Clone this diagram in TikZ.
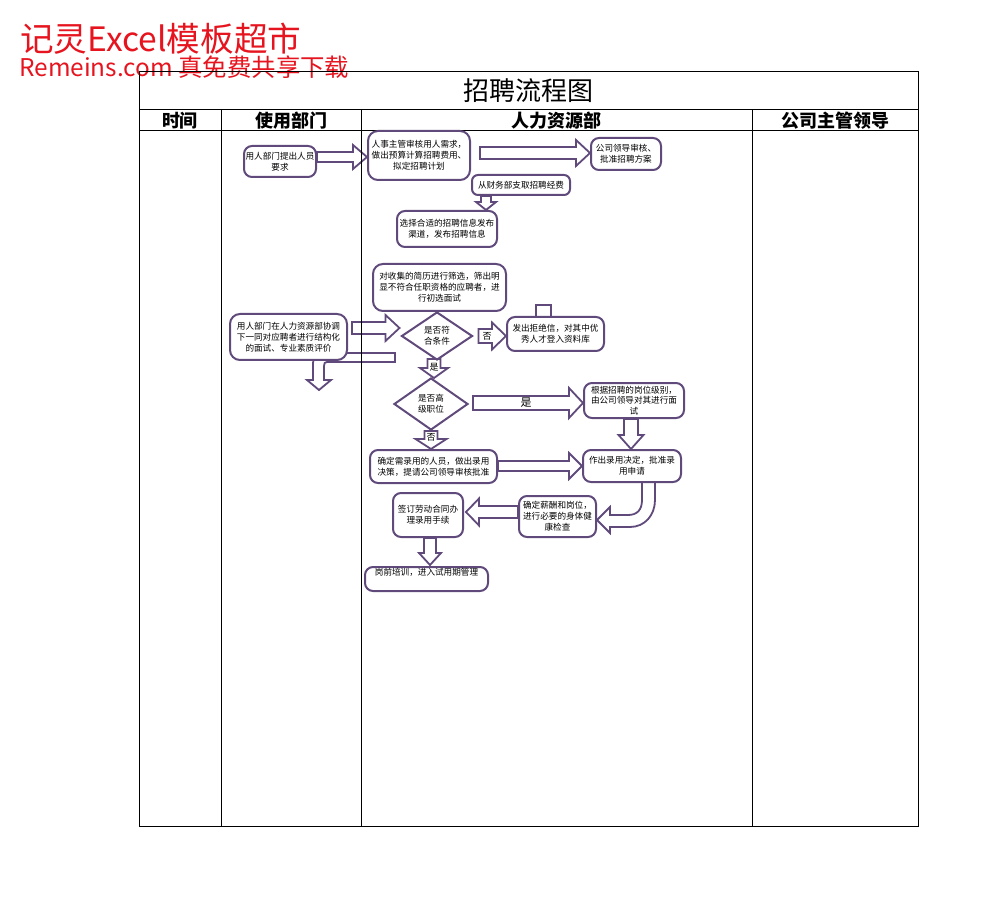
\documentclass[tikz,border=0pt]{standalone}
\usepackage{fontspec}
\newfontfamily\cjk{Noto Sans CJK SC}
\usepackage{xcolor}
\usetikzlibrary{calc, shapes.geometric, backgrounds}
\definecolor{flowpurple}{RGB}{96,74,123}
\definecolor{markred}{RGB}{230,20,30}

% hollow block arrow: from, to, shaft half, head half, head length
\newcommand{\blockarrow}[5]{%
  \coordinate (s) at (#1); \coordinate (t) at (#2);
  \coordinate (h) at ($(t)!#5!(s)$);
  \draw[blk] ($(s)!#3!90:(t)$) -- ($(h)!#3!-90:(s)$) -- ($(h)!#4!-90:(s)$) -- (t)
    -- ($(h)!#4!90:(s)$) -- ($(h)!#3!90:(s)$) -- ($(s)!#3!-90:(t)$) -- cycle;}

\begin{document}
\begin{tikzpicture}[x=0.5pt, y=-0.5pt,
    box/.style={draw=flowpurple, line width=1pt, rounded corners=4pt, fill=white,
      align=center, inner sep=0pt, font=\cjk\fontsize{4.3}{5.4}\selectfont},
    dia/.style={box, diamond, rounded corners=0pt},
    blk/.style={draw=flowpurple, line width=0.9pt, fill=white, line join=miter},
    grid/.style={draw=black, line width=0.5pt},
    head/.style={font=\cjk\bfseries\fontsize{9}{9}\selectfont},
    lab/.style={font=\cjk\fontsize{4.5}{5}\selectfont, inner sep=0pt}]
  \useasboundingbox (0,0) rectangle (987,899);

  % watermark
  \node[anchor=west, text=markred, inner sep=0pt, font=\cjk\fontsize{16.8}{17}\selectfont] (wm1) at (20,39) {记灵Excel模板超市};
  \node[anchor=west, text=markred, inner sep=0pt, font=\cjk\fontsize{12.2}{13}\selectfont] (wm2) at (19,67) {Remeins.com 真免费共享下载};

  % table
  \draw[grid] (139,72) rectangle (918,826);
  \draw[grid] (139,110) -- (918,110);
  \draw[grid] (139,131) -- (918,131);
  \foreach \x in {221,361,752} \draw[grid] (\x,110) -- (\x,826);
  \node[font=\cjk\fontsize{13}{13}\selectfont] (ttl) at (528,91) {招聘流程图};
  \node[head] (h1) at (180,120.5) {时间};
  \node[head] (h2) at (291,120.5) {使用部门};
  \node[head] (h3) at (556,120.5) {人力资源部};
  \node[head] (h4) at (835,120.5) {公司主管领导};

  % boxes
  \node[box, minimum width=36pt, minimum height=15.5pt] (b1) at (280,161.5) {用人部门提出人员\\要求};
  \node[box, minimum width=51pt, minimum height=24.5pt, rounded corners=5pt] (b2) at (419,155.5) {人事主管审核用人需求，\\做出预算计算招聘费用、\\拟定招聘计划};
  \node[box, minimum width=35pt, minimum height=16pt] (b3) at (626,154) {公司领导审核、\\批准招聘方案};
  \node[box, minimum width=49pt, minimum height=10pt, rounded corners=3pt] (b4) at (521,185) {从财务部支取招聘经费};
  \node[box, minimum width=50pt, minimum height=18pt] (b5) at (447,229) {选择合适的招聘信息发布\\渠道，发布招聘信息};
  \node[box, minimum width=66.5pt, minimum height=23.5pt, rounded corners=5pt] (b6) at (439.5,287.5) {对收集的简历进行筛选，筛出明\\显不符合任职资格的应聘者，进\\行初选面试};
  \node[box, minimum width=58.5pt, minimum height=23pt, rounded corners=5pt] (b7) at (288.5,337) {用人部门在人力资源部协调\\下一同对应聘者进行结构化\\的面试、专业素质评价};
  \node[dia, minimum width=35.5pt, minimum height=24pt] (d1) at (437,336) {是否符\\合条件};
  \node[box, minimum width=48.5pt, minimum height=17pt] (b9) at (555.5,334) {发出拒绝信，对其中优\\秀人才登入资料库};
  \node[dia, minimum width=37pt, minimum height=26pt] (d2) at (431,404) {是否高\\级职位};
  \node[box, minimum width=50pt, minimum height=17.5pt] (b11) at (634,400.5) {根据招聘的岗位级别，\\由公司领导对其进行面\\试};
  \node[box, minimum width=63.5pt, minimum height=16.5pt] (b12) at (433.5,466.5) {确定需录用的人员，做出录用\\决策，提请公司领导审核批准};
  \node[box, minimum width=49pt, minimum height=16pt] (b13) at (632,466) {作出录用决定，批准录\\用申请};
  \node[box, minimum width=38.5pt, minimum height=20.5pt] (b14) at (557.5,516.5) {确定薪酬和岗位，\\进行必要的身体健\\康检查};
  \node[box, minimum width=35pt, minimum height=22pt] (b15) at (428,515) {签订劳动合同办\\理录用手续};
  \node[box, minimum width=61.5pt, minimum height=12pt, align=left] (b16) at (426.5,579) {岗前培训，进入试用期管理\\ \strut};

  % block arrows
  \begin{scope}[on background layer]
    \blockarrow{$(b1.east)+(0,-4.5)$}{$(b2.west |- b1.east)+(0,-4.5)$}{2.5pt}{6pt}{7pt}
    \blockarrow{$(b2.east)+(9,-2.5)$}{$(b3.west)+(0,-1)$}{3pt}{6.5pt}{7pt}
    \blockarrow{$(b4.south)+(-35,0)$}{$(b5.north)+(39,0)$}{2.5pt}{5pt}{4pt}
    \blockarrow{$(b7.east)+(4,-9)$}{$(d1.west)+(-1,-8)$}{3pt}{6.5pt}{7pt}
    \blockarrow{$(d1.east)+(5,0)$}{$(b9.west)+(0,2)$}{3.5pt}{6.75pt}{7pt}
    \blockarrow{$(d1.south)+(-3,-2)$}{$(d2.north)+(3,1)$}{3.25pt}{7pt}{5pt}
    \blockarrow{$(d2.east)+(4,-1)$}{$(b11.west)+(0,2.5)$}{3.5pt}{7.5pt}{7pt}
    \blockarrow{$(b11.south)+(-3,0)$}{$(b13.north)+(-1,0)$}{3.5pt}{6.25pt}{7pt}
    \blockarrow{d2.south}{$(b12.north)+(-2.5,0)$}{3.25pt}{7.75pt}{5pt}
    \blockarrow{$(b12.east)+(0,-0.5)$}{b13.west}{2.5pt}{6.5pt}{6.5pt}
    \blockarrow{$(b14.west)+(0,-4.5)$}{$(b15.east)+(2,-3)$}{3pt}{6.75pt}{6.5pt}
    \blockarrow{$(b15.south)+(2,0)$}{$(b16.north)+(3.5,-1)$}{3pt}{5.5pt}{6pt}
    % bent arrow back to the department
    \draw[blk] (395,353) -- (323,353) .. controls (317,353) and (313,357) .. (313,363)
      -- (313,380) -- (307,380) -- (319,390) -- (331,380) -- (324,380) -- (324,366)
      .. controls (324,363) and (325,362) .. (327,362) -- (395,362) -- cycle;
    % turn arrow to the health check
    \draw[blk] (642,482) -- (642,500) .. controls (642,510) and (637,515) .. (628,515)
      -- (610,515) -- (610,507) -- (597,520) -- (610,533) -- (610,527) -- (630,527)
      .. controls (645,527) and (655,515) .. (655,500) -- (655,482) -- cycle;
    \draw[blk] (536,325) -- (536,305) -- (551,305) -- (551,325);
  \end{scope}

  % arrow labels
  \node[lab] (l1) at (487,336) {否};
  \node[lab] (l2) at (434,367) {是};
  \node[lab, font=\cjk\fontsize{5.5}{6}\selectfont] (l3) at (526,403) {是};
  \node[lab] (l4) at (431,437) {否};
\end{tikzpicture}
\end{document}
